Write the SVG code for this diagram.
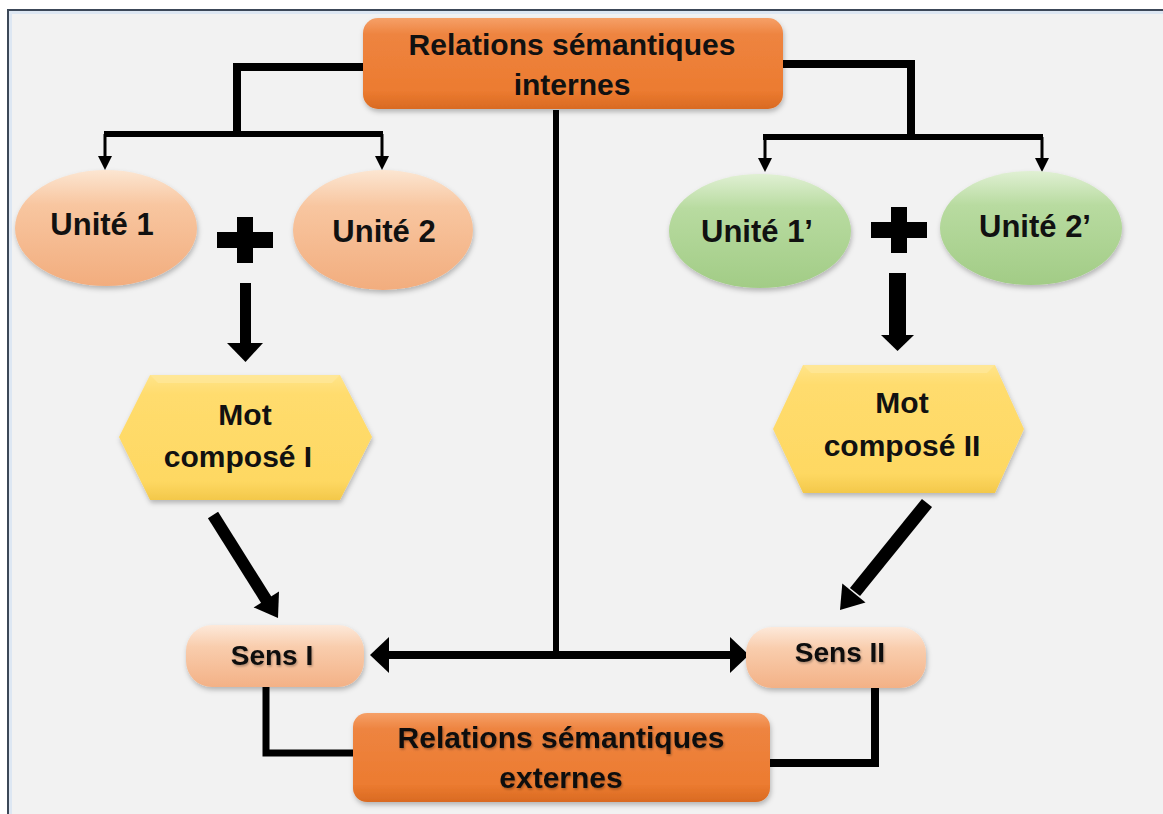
<svg xmlns="http://www.w3.org/2000/svg" width="1163" height="814" viewBox="0 0 1163 814">
<defs>
<linearGradient id="gOrange" x1="0" y1="0" x2="0" y2="1">
<stop offset="0" stop-color="#f6a068"/><stop offset="0.18" stop-color="#ee8440"/><stop offset="0.8" stop-color="#ec7b30"/><stop offset="1" stop-color="#d96a22"/>
</linearGradient>
<linearGradient id="gPeach" x1="0" y1="0" x2="0" y2="1">
<stop offset="0" stop-color="#fce6d2"/><stop offset="0.3" stop-color="#f8c6a0"/><stop offset="1" stop-color="#f2ad7e"/>
</linearGradient>
<linearGradient id="gGreen" x1="0" y1="0" x2="0" y2="1">
<stop offset="0" stop-color="#e0f0d3"/><stop offset="0.3" stop-color="#b8dba0"/><stop offset="1" stop-color="#a2cc86"/>
</linearGradient>
<linearGradient id="gYellow" x1="0" y1="0" x2="0" y2="1">
<stop offset="0" stop-color="#ffe48a"/><stop offset="0.15" stop-color="#ffdc6e"/><stop offset="0.85" stop-color="#fed862"/><stop offset="1" stop-color="#f3c84a"/>
</linearGradient>
<linearGradient id="gSens" x1="0" y1="0" x2="0" y2="1">
<stop offset="0" stop-color="#fde9da"/><stop offset="0.35" stop-color="#f9cdad"/><stop offset="1" stop-color="#f3b186"/>
</linearGradient>
<filter id="sh" x="-10%" y="-10%" width="120%" height="130%">
<feDropShadow dx="1" dy="3" stdDeviation="2.5" flood-color="#000" flood-opacity="0.25"/>
</filter>
<filter id="tsh" x="-10%" y="-20%" width="120%" height="150%">
<feDropShadow dx="1" dy="1.5" stdDeviation="1" flood-color="#000" flood-opacity="0.3"/>
</filter>
</defs>
<style>
.t{font-family:"Liberation Sans",Arial,sans-serif;font-weight:bold;font-size:30px;fill:#111;text-anchor:middle}
.ln{fill:none;stroke:#000;stroke-linejoin:miter}
.ah{fill:#000}
</style>
<rect x="0" y="0" width="1163" height="814" fill="#ffffff"/>
<rect x="7" y="9" width="1156" height="805" fill="#f2f2f2"/>
<path d="M8,814 V10 H1163" fill="none" stroke="#3c4858" stroke-width="2"/>
<path d="M10.5,814 V12.5 H1163" fill="none" stroke="#dde7f3" stroke-width="3"/>

<g id="connectors">
<path class="ln" d="M364,67 H237 V134" stroke-width="8"/>
<path class="ln" d="M104,134 H383" stroke-width="6"/>
<path class="ln" d="M105,134 V158" stroke-width="3"/>
<polygon class="ah" points="98,156 112,156 105,170"/>
<path class="ln" d="M382,134 V158" stroke-width="3"/>
<polygon class="ah" points="375,156 389,156 382,170"/>
<path class="ln" d="M782,64 H911 V137" stroke-width="8"/>
<path class="ln" d="M763,137 H1043" stroke-width="6"/>
<path class="ln" d="M765,137 V160" stroke-width="3"/>
<polygon class="ah" points="758,158 772,158 765,172"/>
<path class="ln" d="M1042,137 V160" stroke-width="3"/>
<polygon class="ah" points="1035,158 1049,158 1042,172"/>
<path class="ln" d="M556,110 V655" stroke-width="6"/>
<path class="ln" d="M386,655 H733" stroke-width="8"/>
<polygon class="ah" points="370,655 389,637 389,673"/>
<polygon class="ah" points="749,655 730,637 730,673"/>
<path class="ln" d="M266,687 V753 H354" stroke-width="7"/>
<path class="ln" d="M875,688 V763 H769" stroke-width="8"/>
<rect x="237" y="217" width="16" height="46" class="ah"/>
<rect x="217" y="232" width="56" height="16" class="ah"/>
<rect x="891" y="207" width="16" height="46" class="ah"/>
<rect x="871" y="222" width="56" height="16" class="ah"/>
<rect x="240" y="283" width="11" height="62" class="ah"/>
<polygon class="ah" points="227,343 263,343 245.5,362"/>
<rect x="889" y="273" width="17" height="64" class="ah"/>
<polygon class="ah" points="881,335 914,335 897.5,351"/>
<path class="ln" d="M213,515 L267,601" stroke-width="12"/>
<polygon class="ah" points="253.6,607.4 279,591.4 278,618"/>
<path class="ln" d="M927,503 L855,592" stroke-width="13"/>
<polygon class="ah" points="865.5,602.4 842.3,583.4 840,610"/>
</g>

<g id="node-internes">
<rect x="363" y="18" width="420" height="91" rx="15" fill="url(#gOrange)" filter="url(#sh)"/>
<text class="t" x="572" y="55">Relations sémantiques</text>
<text class="t" x="572" y="95">internes</text>
</g>
<g id="node-unite1">
<ellipse cx="106" cy="228" rx="91" ry="58" fill="url(#gPeach)" filter="url(#sh)"/>
<text class="t" x="102" y="235" style="font-size:31px">Unité 1</text>
</g>
<g id="node-unite2">
<ellipse cx="383" cy="230" rx="90" ry="60" fill="url(#gPeach)" filter="url(#sh)"/>
<text class="t" x="384" y="242" style="font-size:31px">Unité 2</text>
</g>
<g id="node-unite1p">
<ellipse cx="760" cy="231" rx="91" ry="57" fill="url(#gGreen)" filter="url(#sh)"/>
<text class="t" x="757" y="242" style="font-size:31px">Unité 1’</text>
</g>
<g id="node-unite2p">
<ellipse cx="1031" cy="228" rx="91" ry="57" fill="url(#gGreen)" filter="url(#sh)"/>
<text class="t" x="1035" y="237" style="font-size:31px">Unité 2’</text>
</g>
<g id="node-mot1">
<polygon points="150,375 340,375 372,437 340,500 150,500 119,437" fill="url(#gYellow)" filter="url(#sh)"/>
<polygon points="150,375 340,375 332,383 158,383" fill="#ffeaa0" opacity="0.6"/>
<text class="t" x="245" y="425">Mot</text>
<text class="t" x="238" y="467">composé I</text>
</g>
<g id="node-mot2">
<polygon points="803,365 995,365 1024,429 995,493 803,493 773,429" fill="url(#gYellow)" filter="url(#sh)"/>
<polygon points="803,365 995,365 987,373 811,373" fill="#ffeaa0" opacity="0.6"/>
<text class="t" x="902" y="413">Mot</text>
<text class="t" x="902" y="456">composé II</text>
</g>
<g id="node-sens1">
<rect x="186" y="625" width="178" height="62" rx="26" fill="url(#gSens)" filter="url(#sh)"/>
<text class="t" x="272" y="665" style="font-size:28px" filter="url(#tsh)">Sens I</text>
</g>
<g id="node-sens2">
<rect x="746" y="627" width="180" height="61" rx="26" fill="url(#gSens)" filter="url(#sh)"/>
<text class="t" x="840" y="662" style="font-size:28px" filter="url(#tsh)">Sens II</text>
</g>
<g id="node-externes">
<rect x="353" y="713" width="417" height="89" rx="14" fill="url(#gOrange)" filter="url(#sh)"/>
<text class="t" x="561" y="748" filter="url(#tsh)">Relations sémantiques</text>
<text class="t" x="561" y="788" filter="url(#tsh)">externes</text>
</g>
</svg>
